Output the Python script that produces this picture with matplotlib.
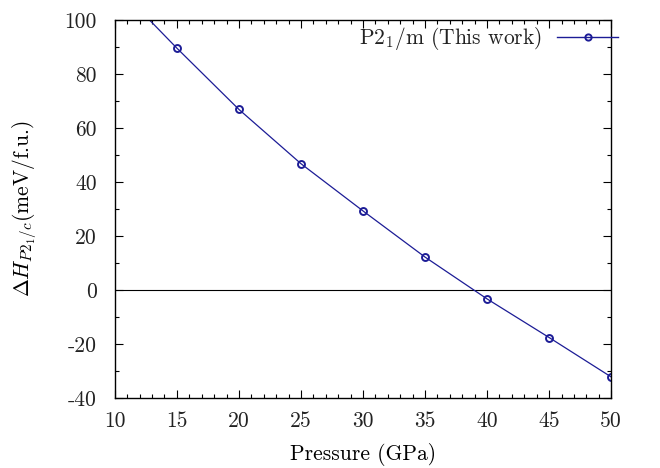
import matplotlib
matplotlib.use("Agg")
import matplotlib.pyplot as plt
from matplotlib.ticker import MultipleLocator, FuncFormatter

# data
pressure = [15, 20, 25, 30, 35, 40, 45, 50]
delta_h = [89.6, 66.9, 46.8, 29.3, 12.2, -3.3, -17.6, -32.2]

# fitted curve (extends past the first point up to the top edge)
fit_p = [12.8, 15, 20, 25, 30, 35, 40, 45, 50]
fit_h = [100.0, 89.6, 66.9, 46.8, 29.3, 12.2, -3.3, -17.6, -32.2]

plt.rcParams['font.family'] = 'serif'
plt.rcParams['font.serif'] = ['cmr10']
plt.rcParams['mathtext.fontset'] = 'cm'
plt.rcParams['axes.unicode_minus'] = False
plt.rcParams['font.size'] = 15.5
plt.rcParams['text.color'] = '#222222'
plt.rcParams['xtick.labelcolor'] = '#222222'
plt.rcParams['ytick.labelcolor'] = '#222222'

color = '#1c1c96'

fig = plt.figure(figsize=(6.6, 4.68), dpi=100)
ax = fig.add_axes([0.174, 0.1496, 0.752, 0.8075])

ax.axhline(0, color='black', lw=0.8)
ax.plot(fit_p, fit_h, color=color, lw=0.9)
ax.plot(pressure, delta_h, 'o', color=color, mfc='none', ms=5, mew=1.4)
ax.plot([], [], '-o', color=color, mfc='none', ms=4.5, mew=1.4, lw=1.0,
        label=r'P2$_1$/m (This work)')

ax.set_xlim(10, 50)
ax.set_ylim(-40, 100)
ax.xaxis.set_major_locator(MultipleLocator(5))
ax.xaxis.set_minor_locator(MultipleLocator(1))
ax.yaxis.set_major_locator(MultipleLocator(20))
ax.yaxis.set_minor_locator(MultipleLocator(10))
fmt = FuncFormatter(lambda v, p: '%d' % v)
ax.xaxis.set_major_formatter(fmt)
ax.yaxis.set_major_formatter(fmt)
ax.tick_params(which='both', direction='in', top=True, right=True, width=0.8)
ax.tick_params(which='major', length=6)
ax.tick_params(which='minor', length=3)
ax.tick_params(axis='x', which='major', pad=10)
ax.tick_params(axis='y', which='major', pad=13)
for s in ax.spines.values():
    s.set_linewidth(1.0)

ax.set_xlabel('Pressure (GPa)', labelpad=8)
ax.set_ylabel(r'$\Delta H_{P2_1/c}$(meV/f.u.)', labelpad=18)

ax.legend(loc='upper right', bbox_to_anchor=(1.035, 1.015), frameon=False,
          markerfirst=False, handlelength=2.8, borderaxespad=0.1,
          handletextpad=0.7)

fig.savefig('out.png', dpi=100)
